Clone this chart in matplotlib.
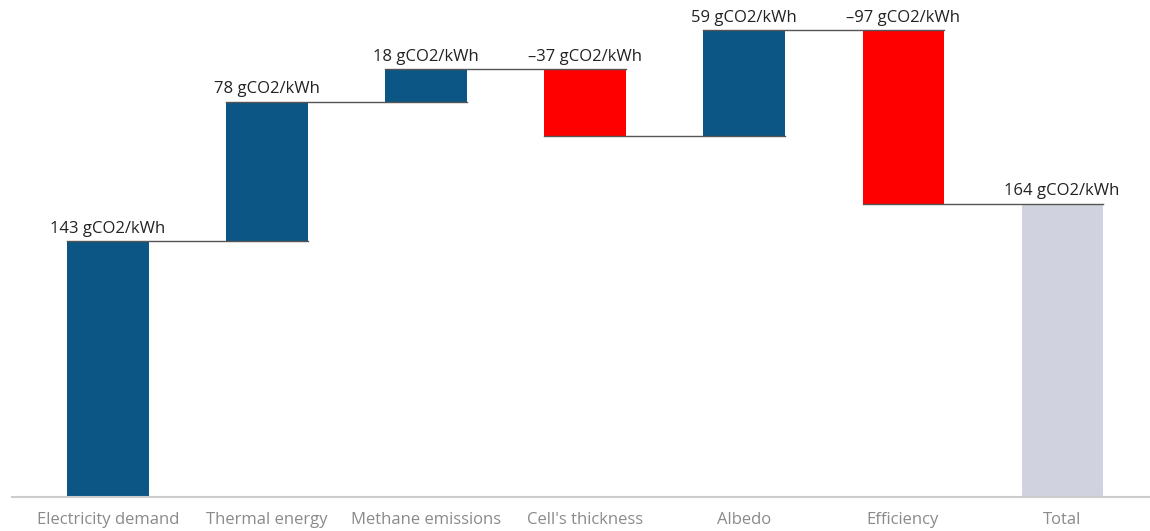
import matplotlib
matplotlib.use("Agg")
import matplotlib.pyplot as plt
import numpy as np

categories = ["Electricity demand", "Thermal energy", "Methane emissions",
              "Cell's thickness", "Albedo", "Efficiency", "Total"]
changes = [143, 78, 18, -37, 59, -97]
total = 164
unit = "gCO2/kWh"

BLUE = "#0B5685"
RED = "#FF0000"
TOTAL_C = "#D0D3DF"

plt.rcParams['font.family'] = ['Open Sans', 'DejaVu Sans']

fig = plt.figure(figsize=(11.5, 5.31), dpi=100)
ax = fig.add_axes([0, 34 / 531, 1, 497 / 531])

x = np.arange(len(categories))
width = 0.51

# running totals for the floating bars
ends = np.cumsum(changes)
starts = ends - np.array(changes)
bottoms = list(np.minimum(starts, ends)) + [0]
heights = list(np.abs(changes)) + [total]
tops = list(np.maximum(starts, ends)) + [total]
colors = [BLUE if c >= 0 else RED for c in changes] + [TOTAL_C]
labels = [f"{c:d} {unit}".replace("-", "\u2013") for c in changes] + [f"{total} {unit}"]

ax.bar(x, heights, width, bottom=bottoms, color=colors, zorder=2)

# connector lines from each bar's left edge to the next bar's right edge
levels = list(ends)
for i, lvl in enumerate(levels):
    ax.plot([x[i] - width / 2, x[i + 1] + width / 2], [lvl, lvl],
            color="#555555", lw=1.0, zorder=3)

for xi, top, lab in zip(x, tops, labels):
    ax.annotate(lab, (xi, top), xytext=(0, 3), textcoords="offset points",
                ha="center", va="bottom", fontsize=12, color="#222222")

ax.set_xlim(-0.679, 6.553)
ax.set_ylim(0, 277.8)
ax.set_xticks(x)
ax.set_xticklabels(categories, fontsize=12, color="#8a8a8a")
ax.tick_params(axis="x", length=0, pad=11)
ax.set_yticks([])
for s in ["top", "right", "left"]:
    ax.spines[s].set_visible(False)
ax.spines["bottom"].set_bounds(-0.604, 6.553)
ax.spines["bottom"].set_color("#cccccc")
ax.spines["bottom"].set_linewidth(1.5)

fig.savefig("out.png", dpi=100)
